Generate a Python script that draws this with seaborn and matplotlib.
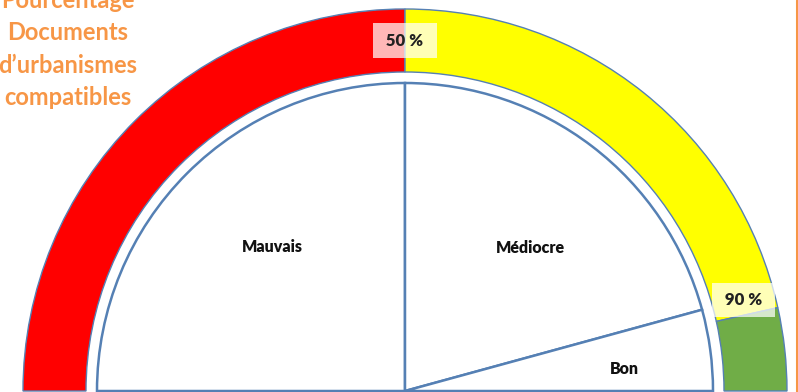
import numpy as np
import seaborn as sns
import matplotlib.pyplot as plt

# anneau de la jauge (part du demi-cercle, en %)
zone_values = [50, 43, 7]
zone_colors = ['#FF0000', '#FFFF00', '#70AD47']
seuil_labels = ['50 %', '90 %']
seuil_angles = [90, 15]

# secteurs interieurs
categories = ['Mauvais', 'Médiocre', 'Bon']
cat_values = [50, 41.5, 8.5]

title_lines = ['Pourcentage', 'Documents', 'd\u2019urbanismes', 'compatibles']

sns.set_theme(style='white')
plt.rcParams['font.family'] = ['Lato', 'DejaVu Sans']

edge = '#5580B4'
cx, cy = 405, 0
r_out, r_ring_in, r_pie = 382, 319, 308
# position des étiquettes (angle, fraction du rayon)
label_pos = [(132.5, 0.635), (48.8, 0.617), (5.7, 0.716)]

fig = plt.figure(figsize=(7.98, 3.92), dpi=100)
ax = fig.add_axes([0, 0, 1, 1])

# anneau coloré, moitié basse invisible
wedges, _ = ax.pie(zone_values + [sum(zone_values)],
                   colors=zone_colors + ['none'],
                   radius=r_out, center=(cx, cy), startangle=180,
                   counterclock=False, frame=True,
                   wedgeprops=dict(width=r_out - r_ring_in, edgecolor=edge, linewidth=1.0))
wedges[-1].set_edgecolor('none')

# secteurs blancs
wedges2, _ = ax.pie(cat_values + [sum(cat_values)],
                    colors=['white'] * len(cat_values) + ['none'],
                    radius=r_pie, center=(cx, cy), startangle=180,
                    counterclock=False, frame=True,
                    wedgeprops=dict(edgecolor=edge, linewidth=1.8))
wedges2[-1].set_edgecolor('none')

for name, (ang, frac) in zip(categories, label_pos):
    rr = r_pie * frac
    ax.text(cx + rr * np.cos(np.radians(ang)), cy + rr * np.sin(np.radians(ang)), name,
            ha='center', va='center', fontsize=11.5, fontweight='heavy', color='#111111')

# seuils
r_mid = (r_out + r_ring_in) / 2
for lab, ang in zip(seuil_labels, seuil_angles):
    ax.text(cx + r_mid * np.cos(np.radians(ang)), cy + r_mid * np.sin(np.radians(ang)),
            ' ' + lab + ' ', ha='center', va='center', fontsize=12, fontweight='heavy',
            color='#222222',
            bbox=dict(boxstyle='square,pad=0.55', facecolor='white', alpha=0.72, edgecolor='none'))

ax.text(68, 342, '\n'.join(title_lines), ha='center', va='center', multialignment='center',
        fontsize=17, fontweight='bold', color='#F79646', linespacing=1.5)

ax.axvline(796.5, color='#F79646', linewidth=2.2)

ax.set_xlim(0, 798)
ax.set_ylim(-1, 391)
ax.set_aspect('equal')
ax.axis('off')

fig.savefig('out.png', dpi=100)
